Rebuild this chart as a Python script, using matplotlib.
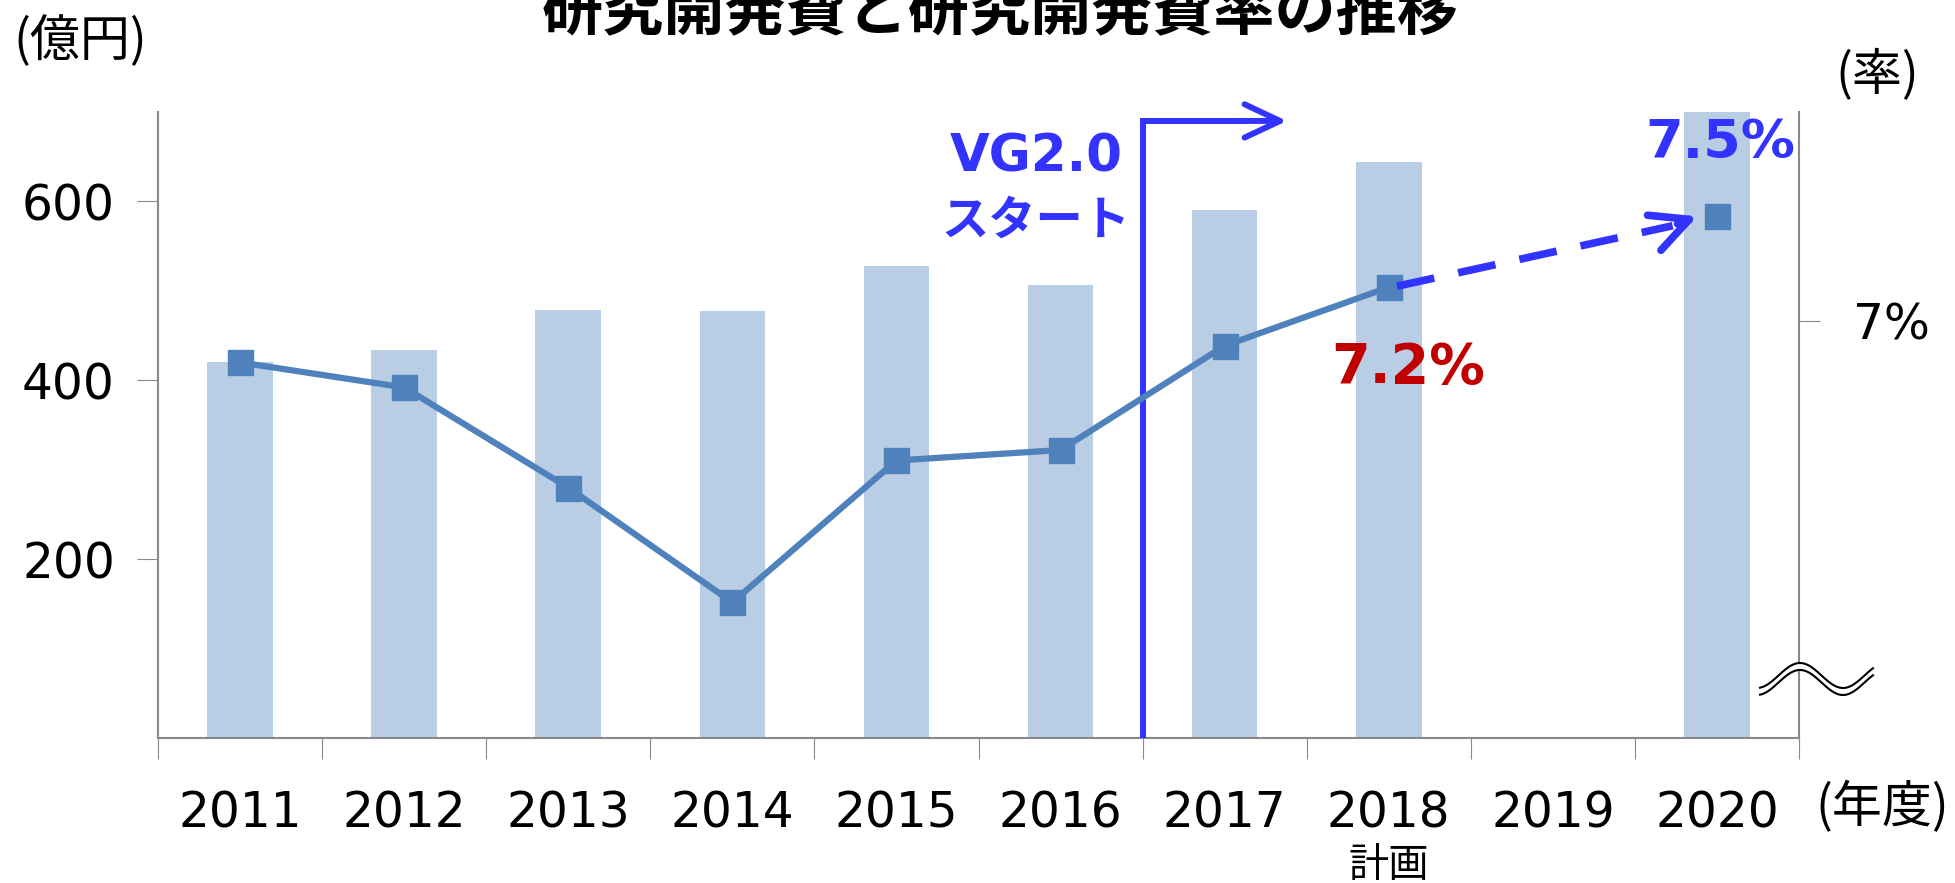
import numpy as np
import matplotlib
matplotlib.use("Agg")
import matplotlib.pyplot as plt

plt.rcParams['font.family'] = ['DejaVu Sans', 'Noto Sans CJK JP']
cjk = ['Noto Sans CJK JP', 'DejaVu Sans']

# data
years = ['2011', '2012', '2013', '2014', '2015', '2016', '2017', '2018', '2019', '2020']
rd_cost = [420, 434, 479, 478, 528, 507, 590, 644, np.nan, 720]      # 億円
rd_rate = [6.80, 6.68, 6.20, 5.65, 6.33, 6.38, 6.88, 7.16, np.nan, 7.50]  # %

bar_col = '#B9CDE5'
line_col = '#4F81BD'
blue = '#3333FF'
red = '#C00000'
grey = '#898989'

W, H = 1955, 883
fig = plt.figure(figsize=(W / 100, H / 100), dpi=100)
ax = fig.add_axes([158 / W, 1 - 738 / H, (1799 - 158) / W, (738 - 112) / H])
x = np.arange(len(years))

ax.bar(x, rd_cost, width=0.4, color=bar_col, zorder=1)
ax.set_xlim(-0.5, 9.5)
ax.set_ylim(0, 700)
ax.set_yticks([200, 400, 600])
ax.tick_params(axis='y', labelsize=35, length=15, color=grey, direction='out', pad=16)

# ticks between categories, labels at centres
ax.set_xticks(np.arange(-0.5, 10, 1))
ax.set_xticklabels([])
ax.set_xticks(x, minor=True)
ax.set_xticklabels(years, minor=True)
ax.tick_params(axis='x', which='major', length=15, color=grey, direction='out')
ax.tick_params(axis='x', which='minor', length=0, labelsize=35, pad=37)

for s in ['left', 'bottom']:
    ax.spines[s].set_color(grey)
    ax.spines[s].set_linewidth(1.5)
ax.spines['top'].set_visible(False)
ax.spines['right'].set_visible(False)

# VG2.0 start line
ax.plot([5.5, 5.5, 6.1], [0, 690, 690], color=blue, lw=4.3, solid_joinstyle='miter', zorder=3)
ax.annotate('', xy=(6.38, 690), xytext=(6.05, 690),
            arrowprops=dict(arrowstyle='->,head_length=0.85,head_width=0.4',
                            color=blue, lw=4.3, shrinkA=0, shrinkB=0, mutation_scale=30))
ax.text(4.85, 649, 'VG2.0', color=blue, fontsize=37, fontweight='bold', ha='center', va='center')
ax.text(4.85, 578, 'スタート', color=blue, fontsize=34, fontweight='bold', ha='center', va='center',
        family=cjk)

# rate axis
ax2 = ax.twinx()
ax2.set_ylim(5.0, 8.0)
ax2.set_yticks([7])
ax2.set_yticklabels(['7%'])
ax2.tick_params(axis='y', labelsize=35, length=15, color=grey, direction='out', pad=24)
ax2.spines['right'].set_color(grey)
ax2.spines['right'].set_linewidth(1.5)
for s in ['left', 'bottom', 'top']:
    ax2.spines[s].set_visible(False)

ax2.plot(x[:8], rd_rate[:8], color=line_col, lw=4.5, marker='s', markersize=18,
         markerfacecolor=line_col, markeredgecolor=line_col, zorder=4)
ax2.plot(x[9], rd_rate[9], color=line_col, marker='s', markersize=18, linestyle='none', zorder=4)

# plan arrow 2018 -> 2020
tip_x = 8.88
ax2.plot([7.05, tip_x - 0.15], [rd_rate[7] + 0.005, rd_rate[9] - 0.045], color=blue, lw=5.5,
         linestyle=(0, (5, 3.2)), zorder=5)
ax2.annotate('', xy=(tip_x, rd_rate[9]), xytext=(tip_x - 0.12, rd_rate[9] - 0.036),
             arrowprops=dict(arrowstyle='->,head_length=0.9,head_width=0.45',
                             color=blue, lw=5.5, shrinkA=0, shrinkB=0, mutation_scale=30), zorder=5)

ax.text(7.12, 414, '7.2%', color=red, fontsize=40, fontweight='bold', ha='center', va='center')
ax.text(9.02, 665, '7.5%', color=blue, fontsize=39, fontweight='bold', ha='center', va='center', zorder=6)

# texts around the plot
fig.text(1000 / W, 1 - 29 / H, '研究開発費と研究開発費率の推移', fontsize=44, fontweight='bold',
         ha='center', va='baseline', family=cjk)
fig.text(80 / W, 1 - 41 / H, '(億円)', fontsize=36, ha='center', va='center', family=cjk)
fig.text(1877 / W, 1 - 75 / H, '(率)', fontsize=36, ha='center', va='center', family=cjk)
fig.text(1882 / W, 1 - 808 / H, '(年度)', fontsize=36, ha='center', va='center', family=cjk)
ax.text(7, -0.203, '計画', transform=ax.get_xaxis_transform(), fontsize=29,
        ha='center', va='center', family=cjk)

# axis break mark
ov = fig.add_axes([0, 0, 1, 1], zorder=10)
ov.set_xlim(0, W)
ov.set_ylim(H, 0)
ov.axis('off')
wx = np.linspace(1760, 1873, 100)
wy = 675.5 - 12.5 * np.cos(2 * np.pi * (wx - 1800) / 86)
ov.fill_between(wx, wy, wy + 7, color='white')
ov.plot(wx, wy, color='black', lw=1.5)
ov.plot(wx, wy + 7, color='black', lw=1.5)

fig.savefig('out.png', dpi=100)
